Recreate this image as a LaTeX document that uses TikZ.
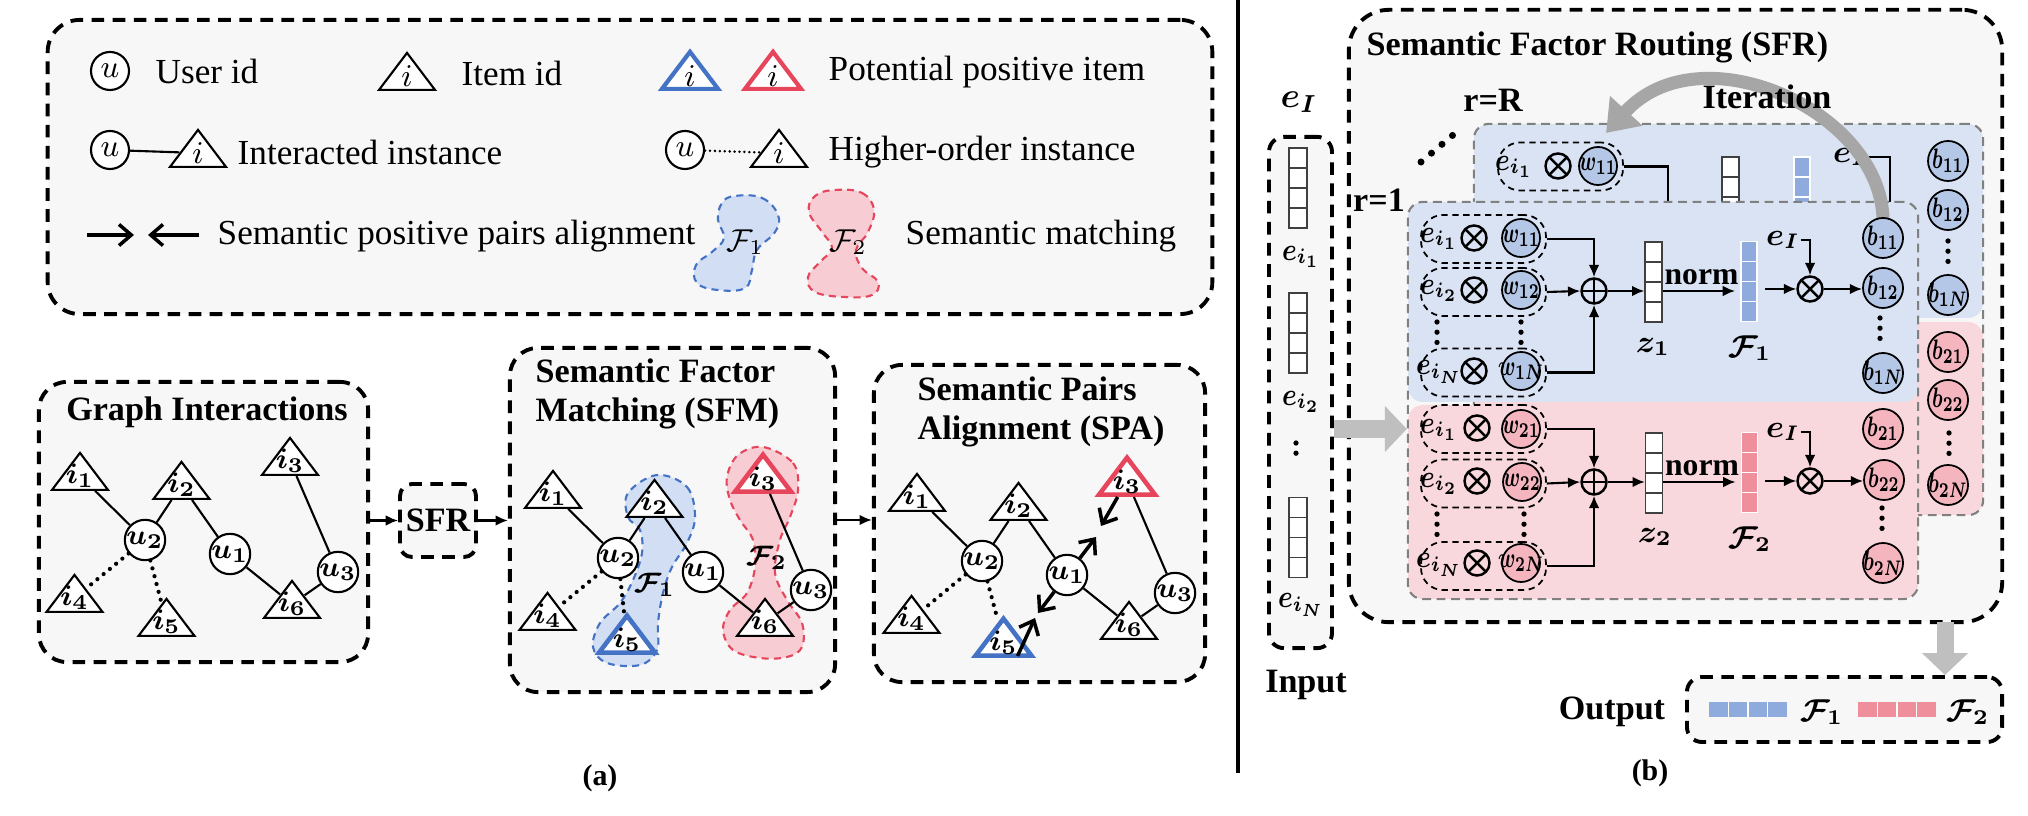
\documentclass[tikz,border=0pt]{standalone}
\usepackage{fontspec}
\usepackage{graphicx}
\setmainfont{Liberation Serif}
\usetikzlibrary{shapes.geometric,arrows.meta,calc}
\definecolor{panelbg}{HTML}{F7F7F7}
\definecolor{bluebg}{HTML}{DAE3F3}
\definecolor{pinkbg}{HTML}{F9D8DD}
\definecolor{bluec}{HTML}{B4C7E7}
\definecolor{pinkc}{HTML}{F4B5BE}
\definecolor{bluecell}{HTML}{8FAADC}
\definecolor{pinkcell}{HTML}{EE8F9B}
\definecolor{myblue}{HTML}{4472C4}
\definecolor{myred}{HTML}{E6455B}
\definecolor{blobb}{HTML}{D2DEF3}
\definecolor{blobr}{HTML}{F7CCD3}
\definecolor{garr}{HTML}{BFBFBF}
\definecolor{iterc}{HTML}{A6A6A6}
\newcommand\ilab{\fontsize{8}{9}\selectfont\boldmath}
\newcommand\elab{\fontsize{9}{10}\selectfont\boldmath}
\newcommand\wlab{\fontsize{8.2}{9}\selectfont\boldmath}
\newcommand\mytitle{\fontsize{9.7}{10.9}\selectfont\bfseries}
\newcommand\legtxt{\fontsize{10}{12}\selectfont}
\newcommand\lglab{\fontsize{9}{10}\selectfont}
\newcommand\normtxt{\fontsize{9}{10}\selectfont\bfseries}
\newcommand\cw[1]{\makebox[0pt][c]{\scalebox{0.68}[1]{#1}}}
\newcommand\ce[1]{\scalebox{0.82}[1]{#1}}
\tikzset{
 panel/.style={draw=black, fill=panelbg, line width=1.1pt, dash pattern=on 3.6pt off 2.4pt, rounded corners=0.28cm, inner sep=0},
 unode/.style={circle, draw, fill=white, line width=0.6pt, minimum size=0.38cm, inner sep=0, font=\ilab},
 trishape/.style={isosceles triangle, isosceles triangle stretches, shape border rotate=90, minimum width=0.56cm, minimum height=0.37cm, inner sep=0, draw, fill=white, line width=0.6pt, anchor=south},
 tri/.style={trishape, label={[anchor=south, inner sep=0.8pt, font=\ilab]south:#1}},
 ltri/.style={trishape, label={[anchor=south, inner sep=1.2pt, font=\lglab]south:#1}},
 gedge/.style={line width=0.6pt},
 dotedge/.style={line width=1.2pt, dash pattern=on 0pt off 2.3pt, line cap=round},
 ldots/.style={line width=0.8pt, dash pattern=on 0pt off 1.4pt, line cap=round},
 algn/.style={line width=1pt, -{Straight Barb[length=3.5pt,width=6pt]}},
 arr/.style={line width=0.6pt, -{Latex[length=3.5pt,width=3pt]}},
 blobB/.style={fill=blobb, draw=myblue, line width=0.6pt, dash pattern=on 2pt off 1.5pt},
 blobR/.style={fill=blobr, draw=myred, line width=0.6pt, dash pattern=on 2pt off 1.5pt},
 grp/.style={draw, line width=0.5pt, dash pattern=on 1.8pt off 1.3pt, rounded corners=0.22cm, minimum width=1.25cm, minimum height=0.48cm, inner sep=0},
 otim/.style={circle, draw, line width=0.7pt, minimum size=0.25cm, inner sep=0, path picture={\draw[line width=0.7pt] (path picture bounding box.north west) -- (path picture bounding box.south east) (path picture bounding box.north east) -- (path picture bounding box.south west);}},
 oplu/.style={circle, draw, line width=0.7pt, minimum size=0.25cm, inner sep=0, path picture={\draw[line width=0.7pt] (path picture bounding box.north) -- (path picture bounding box.south) (path picture bounding box.east) -- (path picture bounding box.west);}},
 wc/.style={circle, draw, line width=0.5pt, minimum size=0.38cm, inner sep=0, fill=#1, font=\wlab},
 bc/.style={circle, draw, line width=0.5pt, minimum size=0.40cm, inner sep=0, fill=#1, font=\wlab},
 vvec/.style 2 args={rectangle, inner sep=0, minimum width=0.17cm, minimum height=0.80cm, fill=#1, draw=#2, line width=0.4pt, path picture={\foreach \qq in {0.25,0.5,0.75}{\draw[#2, line width=0.5pt] ($(path picture bounding box.north west)!\qq!(path picture bounding box.south west)$) -- ($(path picture bounding box.north east)!\qq!(path picture bounding box.south east)$);}}},
 hvec/.style={rectangle, inner sep=0, minimum width=0.78cm, minimum height=0.15cm, fill=#1, path picture={\foreach \qq in {0.25,0.5,0.75}{\draw[white, line width=0.5pt] ($(path picture bounding box.north west)!\qq!(path picture bounding box.north east)$) -- ($(path picture bounding box.south west)!\qq!(path picture bounding box.south east)$);}}},
 vdts/.style={line width=1.5pt, dash pattern=on 0pt off 2.9pt, line cap=round},
 bigdots/.style={line width=2pt, dash pattern=on 0pt off 3.9pt, line cap=round},
 layerline/.style={draw=gray, dash pattern=on 2.5pt off 1.6pt, line width=0.6pt, rounded corners=0.15cm, inner sep=0},
 garrow/.style={draw=garr, line width=0.17cm, -{Triangle[length=0.22cm,width=0.45cm]}},
 iter/.style={draw=iterc, line width=0.13cm, -{Triangle[length=0.30cm,width=0.42cm]}},
 lab/.style={inner sep=0, font=\elab},
 ttl/.style={inner sep=0, font=\mytitle},
 lt/.style={inner sep=0, font=\legtxt, anchor=west},
}
\newcommand\drawgraph[4]{%
 \node[unode] (#1u2) at (145,540) {$u_2$};
 \node[unode] (#1u1) at (230,554) {$u_1$};
 \node[unode] (#1u3) at (338,572) {$u_3$};
 \node[tri={$i_1$}] (#1i1) at (80,491) {};
 \node[tri={$i_2$}] (#1i2) at (181.5,500) {};
 \node[tri={$i_3$},#2] (#1i3) at (290,476) {};
 \node[tri={$i_4$}] (#1i4) at (74.5,613) {};
 \node[tri={$i_5$},#3] (#1i5) at (#4,637) {};
 \node[tri={$i_6$}] (#1i6) at (292,619) {};
 \draw[gedge] (#1i1) -- (#1u2) (#1u2) -- (#1i2) (#1i2) -- (#1u1) (#1u1) -- (#1i6) (#1i6) -- (#1u3) (#1u3) -- (#1i3);
 \draw[dotedge] (#1u2) -- (#1i4) (#1u2) -- (#1i5);
}
\begin{document}
\begin{tikzpicture}[x=0.01cm,y=-0.01cm]
\useasboundingbox (0,0) rectangle (2028,816);
% ================= legend =================
\node[panel, minimum width=11.64cm, minimum height=2.94cm, rounded corners=0.32cm] (legend) at (630,167) {};
\node[unode, font=\lglab] (lu1) at (110,71) {$u$};
\node[lt] (lt1) at (155,71) {User id};
\node[ltri={$i$}] (li1) at (407,91) {};
\node[lt] (lt2) at (461,73) {Item id};
\node[ltri={$i$}, draw=myblue, line width=1.2pt] (lib) at (690,91) {};
\node[ltri={$i$}, draw=myred, line width=1.2pt] (lir) at (773,91) {};
\node[lt] (lt3) at (828,72) {Potential positive item};
\node[unode, font=\lglab] (lu2) at (110,150) {$u$};
\node[ltri={$i$}] (li2) at (198,168) {};
\draw[gedge] (lu2) -- (li2);
\node[lt] (lt4) at (237,152) {Interacted instance};
\node[unode, font=\lglab] (lu3) at (685,150) {$u$};
\node[ltri={$i$}] (li3) at (779,168) {};
\draw[ldots] (lu3) -- (li3);
\node[lt] (lt5) at (828,152) {Higher-order instance};
\coordinate (la1) at (87,235);
\coordinate (la2) at (134,235);
\coordinate (la3) at (199,235);
\coordinate (la4) at (148,235);
\draw[algn] (la1) -- (la2);
\draw[algn] (la3) -- (la4);
\node[lt] (lt6) at (217,236) {Semantic positive pairs alignment};
\draw[blobB] plot[smooth cycle, tension=0.7] coordinates {(735,196) (762,198) (778,215) (775,232) (757,250) (752,270) (745,288) (718,290) (697,283) (696,265) (712,252) (724,238) (718,220) (722,203)};
\draw[blobR] plot[smooth cycle, tension=0.7] coordinates {(835,190) (862,193) (874,210) (868,232) (856,250) (862,268) (878,282) (872,295) (845,297) (815,292) (808,277) (820,262) (832,248) (822,232) (809,212) (815,196)};
\node[inner sep=0, font=\lglab] (lf1) at (745,242) {$\mathcal{F}_1$};
\node[inner sep=0, font=\lglab] (lf2) at (848,242) {$\mathcal{F}_2$};
\node[lt] (lt7) at (905,236) {Semantic matching};
% ================= panels (a) =================
\node[panel, minimum width=3.29cm, minimum height=2.80cm] (gi) at (203.5,522) {};
\node[ttl] (gitl) at (207,412) {Graph Interactions};
\node[panel, minimum width=0.76cm, minimum height=0.73cm, rounded corners=0.12cm, font=\mytitle] (sfrs) at (438,520.5) {SFR};
\node[panel, minimum width=3.25cm, minimum height=3.44cm] (sfm) at (672.5,520) {};
\node[ttl, anchor=west, align=left] (sfmtl) at (535,394) {Semantic Factor\\Matching (SFM)};
\node[panel, minimum width=3.31cm, minimum height=3.17cm] (spa) at (1039.5,523.5) {};
\node[ttl, anchor=west, align=left] (spatl) at (917,412) {Semantic Pairs\\Alignment (SPA)};
\drawgraph{a}{}{}{166.5}
\draw[arr] (gi.east |- sfrs.west) -- (sfrs.west);
\draw[arr] (sfrs.east) -- (sfrs.east -| sfm.west);
\draw[arr] (sfm.east) -- (sfm.east -| spa.west);
% SFM
\draw[blobB] plot[smooth cycle, tension=0.6] coordinates {(657,475) (687,487) (695,517) (687,543) (672,567) (663,593) (658,623) (657,650) (640,665) (607,663) (593,647) (600,623) (620,603) (633,580) (642,553) (640,530) (628,517) (628,493)};
\draw[blobR] plot[smooth cycle, tension=0.6] coordinates {(763,447) (793,463) (798,490) (790,517) (780,540) (775,573) (787,600) (802,623) (802,647) (787,657) (760,658) (733,650) (723,630) (730,610) (747,593) (755,567) (753,540) (740,520) (730,500) (727,477) (738,455)};
\begin{scope}[shift={(473,18)}]
\drawgraph{b}{draw=myred, line width=1.3pt}{draw=myblue, line width=1.3pt}{154}
\end{scope}
\node[inner sep=0, font=\ilab] (bf1) at (655,585) {$\mathcal{F}_1$};
\node[inner sep=0, font=\ilab] (bf2) at (767,558) {$\mathcal{F}_2$};
% SPA
\begin{scope}[shift={(837,21)}]
\drawgraph{c}{draw=myred, line width=1.3pt}{draw=myblue, line width=1.3pt}{166.5}
\end{scope}
\coordinate (al1) at (1101,526);
\coordinate (al2) at (1096,537);
\coordinate (al3) at (1038,613);
\coordinate (al4) at (1035,618);
\draw[algn] (ci3) -- (al1);
\draw[algn] (cu1) -- (al2);
\draw[algn] (cu1) -- (al3);
\draw[algn] ([xshift=0.14cm,yshift=0.02cm]ci5.south) -- (al4);
\node[inner sep=0, font=\fontsize{8.5}{10}\selectfont\bfseries] (alab) at (600,778) {(a)};
% divider
\draw[line width=0.9pt] (1238,0) -- (1238,773);
% ================= (b) =================
\node[panel, minimum width=6.53cm, minimum height=6.12cm, rounded corners=0.4cm] (sfr) at (1675.5,316) {};
\node[ttl, anchor=west] (sfrtl) at (1366,47) {Semantic Factor Routing (SFR)};
\node[panel, minimum width=0.63cm, minimum height=5.11cm, rounded corners=0.15cm] (inbox) at (1300.5,392.5) {};
\node[lab, font=\fontsize{10}{11}\selectfont\boldmath] (ineI) at (1299,102) {$e_I$};
\node[vvec={white}{black!75}, minimum width=0.18cm] (in1) at (1298,188) {};
\node[lab] (ine1) at (1301,257) {\ce{$e_{i_1}$}};
\node[vvec={white}{black!75}, minimum width=0.18cm] (in2) at (1298,333) {};
\node[lab] (ine2) at (1301,402) {\ce{$e_{i_2}$}};
\draw[vdts] (1296,443) -- (1296,463);
\node[vvec={white}{black!75}, minimum width=0.18cm] (in3) at (1298,537.5) {};
\node[lab] (ine3) at (1301,605) {\ce{$e_{i_N}$}};
\node[ttl] (intl) at (1306,685) {Input};
\node[ttl] (rR) at (1493,100) {r=R};
\draw[bigdots] (1421,162) -- (1453,135);
\node[ttl] (r1) at (1379,200) {r=1};
% back layer
\fill[bluebg, rounded corners=0.15cm] (1474,124) rectangle (1983,318);
\fill[pinkbg, rounded corners=0.15cm] (1474,322) rectangle (1983,515);
\node[layerline, minimum width=5.09cm, minimum height=3.91cm] (backl) at (1728.5,319.5) {};
\node[grp] (bg1) at (1560.5,166.5) {};
\node[lab] (bge) at (1514,167) {\ce{$e_{i_1}$}};
\node[otim] (bgx) at (1558,166) {};
\node[wc=bluec] (bw1) at (1598,166) {\cw{$w_{11}$}};
\coordinate (bk1) at (1668,215);
\draw[gedge] (bg1.east) -| (bk1);
\node[vvec={white}{black!75}] (bz) at (1730.5,197) {};
\node[vvec={bluecell}{white}, minimum width=0.16cm] (bF) at (1802,197) {};
\node[lab] (beI) at (1850,157) {$e_I$};
\coordinate (bk2) at (1890,215);
\draw[gedge] (beI.east) -| (bk2);
\node[bc=bluec] (bb11) at (1948,161) {\cw{$b_{11}$}};
\node[bc=bluec] (bb12) at (1948,210) {\cw{$b_{12}$}};
\draw[vdts] (1948,241) -- (1948,262);
\node[bc=bluec] (bb1N) at (1948,295) {\cw{$b_{1N}$}};
\node[bc=pinkc] (bb21) at (1948,352) {\cw{$b_{21}$}};
\node[bc=pinkc] (bb22) at (1948,400) {\cw{$b_{22}$}};
\draw[vdts] (1949,433) -- (1949,454);
\node[bc=pinkc] (bb2N) at (1948,485) {\cw{$b_{2N}$}};
% front layer
\fill[bluebg, rounded corners=0.15cm] (1408,202) rectangle (1918,402);
\fill[pinkbg, rounded corners=0.15cm] (1408,405) rectangle (1918,599);
\node[layerline, minimum width=5.10cm, minimum height=3.97cm] (front) at (1663,400.5) {};
% iteration arrow
\coordinate (b11top) at (1883,219);
\coordinate (itend) at (1606,133);
\draw[iter] (b11top) .. controls (1880,110) and (1700,30) .. (itend);
\node[ttl] (itxt) at (1767,97) {Iteration};
% front blue
\node[grp] (fb1) at (1483.5,239) {};
\node[grp] (fb2) at (1483.5,292) {};
\node[grp] (fb3) at (1483.5,372.5) {};
\node[lab] (fbe1) at (1439,239) {\ce{$e_{i_1}$}};
\node[lab] (fbe2) at (1439,291) {\ce{$e_{i_2}$}};
\node[lab] (fbe3) at (1439,372) {\ce{$e_{i_N}$}};
\node[otim] (fbx1) at (1474,238) {};
\node[otim] (fbx2) at (1474,290) {};
\node[otim] (fbx3) at (1474,371) {};
\node[wc=bluec] (fbw1) at (1521,238) {\cw{$w_{11}$}};
\node[wc=bluec] (fbw2) at (1521,290) {\cw{$w_{12}$}};
\node[wc=bluec] (fbw3) at (1521,371) {\cw{$w_{1N}$}};
\draw[vdts] (1437,322) -- (1437,344);
\draw[vdts] (1521,322) -- (1521,344);
\node[oplu] (fbp) at (1594,291) {};
\draw[arr] (fb1.east) -| (fbp.north);
\draw[arr] (fb2.east) -- (fbp.west);
\draw[arr] (fb3.east) -| (fbp.south);
\node[vvec={white}{black!75}] (fbz) at (1653.5,282) {};
\node[lab] (fbzl) at (1653,347) {$z_1$};
\draw[arr] (fbp.east) -- (fbp.east -| fbz.west);
\node[vvec={bluecell}{white}, minimum width=0.16cm] (fbF) at (1749,281.5) {};
\node[lab] (fbFl) at (1750,348) {$\mathcal{F}_1$};
\draw[arr, shorten >=1.5pt] (fbz.east |- fbp.east) -- node[above, font=\normtxt, inner sep=1.5pt] (n1) {norm} (fbF.west |- fbp.east);
\node[otim] (fbo) at (1810,289) {};
\draw[arr, shorten <=2pt] (fbF.east |- fbo.west) -- (fbo.west);
\node[lab] (fbeI) at (1783,240) {$e_I$};
\draw[arr] (fbeI.east) -| (fbo.north);
\node[bc=bluec] (fbb1) at (1883,238) {\cw{$b_{11}$}};
\node[bc=bluec] (fbb2) at (1883,288) {\cw{$b_{12}$}};
\draw[vdts] (1880,318) -- (1880,339);
\node[bc=bluec] (fbb3) at (1883,373) {\cw{$b_{1N}$}};
\draw[arr] (fbo.east) -- (fbo.east -| fbb2.west);
% front pink
\node[grp] (fp1) at (1483.5,429) {};
\node[grp] (fp2) at (1483.5,483.5) {};
\node[grp] (fp3) at (1483.5,566) {};
\node[lab] (fpe1) at (1439,430) {\ce{$e_{i_1}$}};
\node[lab] (fpe2) at (1439,484) {\ce{$e_{i_2}$}};
\node[lab] (fpe3) at (1439,565) {\ce{$e_{i_N}$}};
\node[otim] (fpx1) at (1477,428) {};
\node[otim] (fpx2) at (1477,481) {};
\node[otim] (fpx3) at (1477,563) {};
\node[wc=pinkc] (fpw1) at (1521,429) {\cw{$w_{21}$}};
\node[wc=pinkc] (fpw2) at (1522,482) {\cw{$w_{22}$}};
\node[wc=pinkc] (fpw3) at (1521,563) {\cw{$w_{2N}$}};
\draw[vdts] (1437,514) -- (1437,536);
\draw[vdts] (1524,514) -- (1524,536);
\node[oplu] (fpp) at (1594,482) {};
\draw[arr] (fp1.east) -| (fpp.north);
\draw[arr] (fp2.east) -- (fpp.west);
\draw[arr] (fp3.east) -| (fpp.south);
\node[vvec={white}{black!75}] (fpz) at (1654,473) {};
\node[lab] (fpzl) at (1655,537) {$z_2$};
\draw[arr] (fpp.east) -- (fpp.east -| fpz.west);
\node[vvec={pinkcell}{white}, minimum width=0.16cm] (fpF) at (1749.5,472.5) {};
\node[lab] (fpFl) at (1750,539) {$\mathcal{F}_2$};
\draw[arr, shorten >=1.5pt] (fpz.east |- fpp.east) -- node[above, font=\normtxt, inner sep=1.5pt] (n2) {norm} (fpF.west |- fpp.east);
\node[otim] (fpo) at (1810,481) {};
\draw[arr, shorten <=2pt] (fpF.east |- fpo.west) -- (fpo.west);
\node[lab] (fpeI) at (1783,432) {$e_I$};
\draw[arr] (fpeI.east) -| (fpo.north);
\node[bc=pinkc] (fpb1) at (1883,429) {\cw{$b_{21}$}};
\node[bc=pinkc] (fpb2) at (1884,480) {\cw{$b_{22}$}};
\draw[vdts] (1882,508) -- (1882,530);
\node[bc=pinkc] (fpb3) at (1883,563) {\cw{$b_{2N}$}};
\draw[arr] (fpo.east) -- (fpo.east -| fpb2.west);
% output
\node[panel, minimum width=3.15cm, minimum height=0.65cm, rounded corners=0.15cm] (outbox) at (1844.5,709.5) {};
\node[hvec=bluecell] (o1) at (1748,709.5) {};
\node[lab] (o1l) at (1822,712) {$\mathcal{F}_1$};
\node[hvec=pinkcell] (o2) at (1897,709.5) {};
\node[lab] (o2l) at (1968,712) {$\mathcal{F}_2$};
\node[ttl] (outtl) at (1612,712) {Output};
% gray arrows
\draw[garrow] (inbox.east |- fp1.west) -- (front.west |- fp1.west);
\coordinate (oa) at (1945,622);
\draw[garrow] (oa) -- (oa |- outbox.north);
\node[inner sep=0, font=\fontsize{8.5}{10}\selectfont\bfseries] (blab) at (1650,773) {(b)};
\end{tikzpicture}
\end{document}
